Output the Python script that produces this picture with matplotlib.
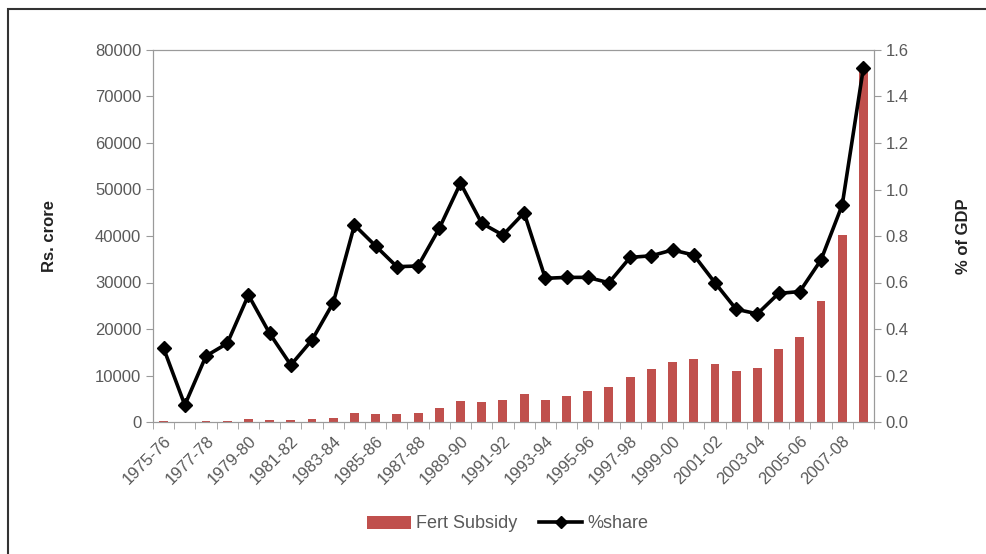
import matplotlib
matplotlib.use("Agg")
import matplotlib.pyplot as plt
import numpy as np
from matplotlib.lines import Line2D
from matplotlib.patches import Patch, Rectangle

# ---------------------------------------------------------------------------
# Data
# ---------------------------------------------------------------------------
years = [f"{y}-{(y + 1) % 100:02d}" for y in range(1975, 2009)]

fert_subsidy = [
    200, 60, 250, 300, 550, 450, 400, 600, 950, 1850,
    1800, 1800, 1950, 3000, 4450, 4230, 4660, 5950, 4800, 5590,
    6670, 7460, 9680, 11330, 12970, 13480, 12400, 10900, 11690, 15630,
    18280, 26020, 40200, 76100,
]

pct_share = [
    0.317, 0.073, 0.284, 0.338, 0.546, 0.381, 0.245, 0.353, 0.513, 0.847,
    0.757, 0.668, 0.671, 0.833, 1.027, 0.855, 0.804, 0.900, 0.618, 0.622,
    0.622, 0.599, 0.708, 0.715, 0.740, 0.718, 0.599, 0.485, 0.465, 0.553,
    0.561, 0.697, 0.933, 1.523,
]

BAR_COLOR = "#C0504D"
TEXT_COLOR = "#595959"
AXIS_COLOR = "#9a9a9a"

plt.rcParams["font.family"] = ["Liberation Sans", "DejaVu Sans"]

fig = plt.figure(figsize=(9.86, 5.54), dpi=100)
ax = fig.add_axes([153 / 986, 1 - 422 / 554, (874 - 153) / 986, (422 - 50) / 554])
ax2 = ax.twinx()

x = np.arange(len(years))
ax.bar(x, fert_subsidy, width=0.42, color=BAR_COLOR, zorder=2)
ax2.plot(x, pct_share, color="black", linewidth=2.6, marker="D",
         markersize=7.5, zorder=3)

ax.set_xlim(-0.5, len(years) - 0.5)
ax.set_ylim(0, 80000)
ax.set_yticks(np.arange(0, 80001, 10000))
ax2.set_ylim(0, 1.6)
ax2.set_yticks(np.arange(0, 1.61, 0.2))
ax2.set_yticklabels([f"{v:.1f}" for v in np.arange(0, 1.61, 0.2)])

ax.set_xticks(x[::2])
ax.set_xticklabels(years[::2], rotation=45, ha="right", rotation_mode="anchor")
ax.set_xticks(np.arange(-0.5, len(years), 1), minor=True)
ax.tick_params(axis="x", which="major", length=0, pad=8)
ax.tick_params(axis="x", which="minor", length=5, color=AXIS_COLOR)

for a in (ax, ax2):
    a.tick_params(axis="y", length=5, color=AXIS_COLOR, labelcolor=TEXT_COLOR,
                  labelsize=12)
    for s in a.spines.values():
        s.set_color(AXIS_COLOR)
ax.tick_params(axis="x", labelcolor=TEXT_COLOR, labelsize=12)

ax.set_ylabel("Rs. crore", fontsize=12, fontweight="bold", color="#222222",
              labelpad=27)
ax2.set_ylabel("% of GDP", fontsize=12, fontweight="bold", color="#222222",
               labelpad=34)

ax.set_zorder(1)
ax2.set_zorder(2)
ax2.patch.set_visible(False)

handles = [
    Patch(facecolor=BAR_COLOR, label="Fert Subsidy"),
    Line2D([0], [0], color="black", linewidth=2.6, marker="D", markersize=6,
           label="%share"),
]
fig.legend(handles=handles, loc="center", bbox_to_anchor=(508 / 986, 1 - 524 / 554),
           ncol=2, frameon=False, fontsize=13, labelcolor=TEXT_COLOR,
           handlelength=2.4, handletextpad=0.3, columnspacing=1.2)

# outer chart frame
fig.patches.append(Rectangle((8 / 986, -0.05), 1.5, 1 - 9 / 554 + 0.05,
                             transform=fig.transFigure, fill=False,
                             edgecolor="#333333", linewidth=1.5))

fig.savefig("out.png", dpi=100)
plt.close(fig)
